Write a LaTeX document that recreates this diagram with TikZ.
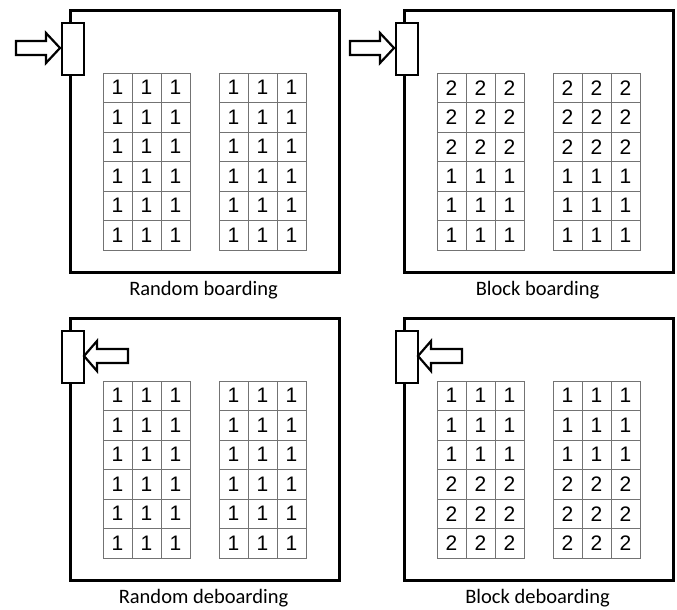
\documentclass[tikz,border=0pt]{standalone}
\usepackage{fontspec}
\setmainfont{Carlito}
\newfontfamily\digitfont{Liberation Sans}
\tikzset{
  panel/.style={draw=black, line width=2.6pt, minimum width=269pt, minimum height=262pt, inner sep=0pt, anchor=north west},
  door/.style={draw=black, fill=white, line width=2.2pt, minimum width=22pt, minimum height=52pt, inner sep=0pt, anchor=north west},
  arr/.style={draw=black, fill=white, line width=2.2pt, line join=miter},
  cell/.style={draw=black!55, line width=0.9pt, minimum width=29pt, minimum height=29.5pt, inner sep=0pt, font=\digitfont\fontsize{21}{21}\selectfont},
  caption/.style={font=\fontsize{20.5}{24}\selectfont}
}
\newcommand\mypanel[7]{%
\begin{scope}[shift={(#2,#3)}]
  \node[panel] (#1) at (0,0) {};
  \node[door] (#1door) at (-8,13) {};
  \ifx#6i
    \draw[arr] (-53,32) -- (-23,32) -- (-23,24) -- (-9,39) -- (-23,54) -- (-23,46) -- (-53,46) -- cycle;
  \else
    \draw[arr] (15,39) -- (28,24) -- (28,32) -- (59,32) -- (59,46) -- (28,46) -- (28,54) -- cycle;
  \fi
  \foreach \g/\gx in {a/34, b/150}{
    \foreach \r in {0,...,5}{
      \foreach \c in {0,1,2}{
        \node[cell] (#1-\g-\r-\c) at (\gx+14.5+29*\c, 64+14.75+29.5*\r) {\ifnum\r<3 #4\else #5\fi};
      }
    }
  }
  \node[caption] (#1cap) at (134.5,281) {#7};
\end{scope}}
\begin{document}
\begin{tikzpicture}[x=1pt, y=-1pt]
  \useasboundingbox (0,0) rectangle (677,610);
  \mypanel{p1}{69}{9}{1}{1}{i}{Random boarding}
  \mypanel{p2}{403}{9}{2}{1}{i}{Block boarding}
  \mypanel{p3}{69}{317}{1}{1}{o}{Random deboarding}
  \mypanel{p4}{403}{317}{1}{2}{o}{Block deboarding}
\end{tikzpicture}
\end{document}
